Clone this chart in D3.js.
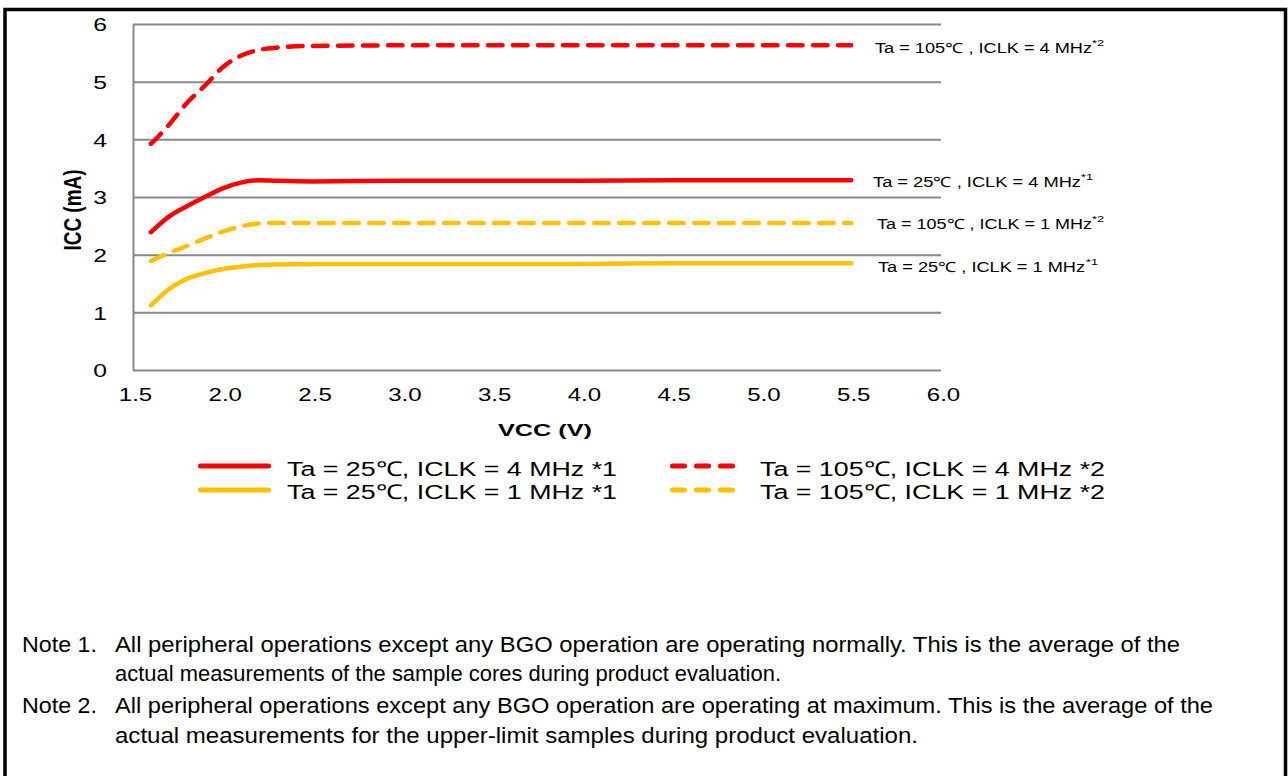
<!DOCTYPE html>
<html>
<head>
<meta charset="utf-8">
<script src="https://cdn.jsdelivr.net/npm/d3@7"></script>
<style>
  html, body { margin: 0; padding: 0; background: #fff; }
  svg { display: block; }
  text { font-family: "Liberation Sans", Arial, sans-serif; fill: #000; }
</style>
</head>
<body>
<svg id="chart" width="1288" height="776"></svg>
<script>
// ---------------- data ----------------
const vcc = [1.6, 1.7, 1.8, 1.9, 2.0, 2.1, 2.2, 2.3, 2.5, 3.0, 3.5, 4.0, 4.5, 5.0, 5.5];
const icc25_4MHz  = [2.39, 2.66, 2.84, 3.00, 3.15, 3.25, 3.29, 3.28, 3.27, 3.28, 3.28, 3.28, 3.29, 3.29, 3.29];
const icc105_4MHz = [3.92, 4.25, 4.63, 4.93, 5.25, 5.45, 5.55, 5.59, 5.62, 5.63, 5.63, 5.63, 5.63, 5.63, 5.63];
const icc25_1MHz  = [1.12, 1.40, 1.58, 1.68, 1.75, 1.79, 1.82, 1.83, 1.84, 1.84, 1.84, 1.84, 1.85, 1.85, 1.85];
const icc105_1MHz = [1.89, 2.03, 2.15, 2.28, 2.40, 2.49, 2.54, 2.55, 2.55, 2.55, 2.55, 2.55, 2.55, 2.55, 2.55];

const xTicks = [1.5, 2.0, 2.5, 3.0, 3.5, 4.0, 4.5, 5.0, 5.5, 6.0];
const yTicks = [0, 1, 2, 3, 4, 5, 6];
const xTitle = "VCC (V)";
const yTitle = "ICC (mA)";

const legendNames = [
  "Ta = 25℃, ICLK = 4 MHz *1",
  "Ta = 25℃, ICLK = 1 MHz *1",
  "Ta = 105℃, ICLK = 4 MHz *2",
  "Ta = 105℃, ICLK = 1 MHz *2"
];
const endLabels = [
  "Ta = 25℃ , ICLK = 4 MHz",
  "Ta = 25℃ , ICLK = 1 MHz",
  "Ta = 105℃ , ICLK = 4 MHz",
  "Ta = 105℃ , ICLK = 1 MHz"
];
const endSup = ["*1", "*1", "*2", "*2"];

const notes = [
  ["Note 1.", "All peripheral operations except any BGO operation are operating normally. This is the average of the"],
  ["", "actual measurements of the sample cores during product evaluation."],
  ["Note 2.", "All peripheral operations except any BGO operation are operating at maximum. This is the average of the"],
  ["", "actual measurements for the upper-limit samples during product evaluation."]
];

// ---------------- layout / style ----------------
const RED = "#ff0000", YEL = "#ffc000", GRID = "#898989";
const series = [
  { vals: icc25_4MHz,  color: RED, dashed: false, label: { x: 873, y: 187, w: 208, sx: 1081, sy: 180 }, leg: { x: 198, y: 466, tx: 287, ty: 476, tw: 330 } },
  { vals: icc25_1MHz,  color: YEL, dashed: false, label: { x: 878, y: 272, w: 207, sx: 1086, sy: 265 }, leg: { x: 198, y: 490, tx: 287, ty: 499, tw: 330 } },
  { vals: icc105_4MHz, color: RED, dashed: true,  label: { x: 875, y: 53,  w: 217, sx: 1092, sy: 46 },  leg: { x: 670, y: 466, tx: 760, ty: 476, tw: 345 } },
  { vals: icc105_1MHz, color: YEL, dashed: true,  label: { x: 877, y: 229, w: 215, sx: 1092, sy: 222 }, leg: { x: 670, y: 490, tx: 760, ty: 499, tw: 345 } }
];

const svg = d3.select("#chart");
const X0 = 133, X1 = 941, Y0 = 370, Y1 = 24;
const x = d3.scaleLinear().domain([1.5, 6.0]).range([X0, X1]);
const y = d3.scaleLinear().domain([0, 6]).range([Y0, Y1]);

// frame (no bottom edge visible)
svg.append("path")
  .attr("d", "M5,780 L5,9.5 L1285.5,9.5 L1285.5,780")
  .attr("fill", "none").attr("stroke", "#000").attr("stroke-width", 3.5);

// y axis + gridlines
const yAxis = d3.axisLeft(y).tickValues(yTicks).tickFormat(d3.format("d"))
  .tickSize(-(X1 - X0)).tickSizeOuter(0).tickPadding(0);
const gy = svg.append("g").attr("transform", `translate(${X0},0)`).call(yAxis);
gy.select(".domain").attr("stroke", GRID).attr("stroke-width", 2);
gy.selectAll(".tick line").attr("stroke", GRID).attr("stroke-width", 2);
gy.selectAll(".tick text")
  .attr("font-size", 19).attr("font-family", "Liberation Sans, Arial, sans-serif")
  .attr("x", -26 / 1.3).attr("dy", "0.36em")
  .attr("transform", "scale(1.3,1)").attr("fill", "#000");

// x axis
const xAxis = d3.axisBottom(x).tickValues(xTicks).tickSize(0).tickFormat(d3.format(".1f"));
const gx = svg.append("g").attr("transform", `translate(0,${Y0})`).call(xAxis);
gx.select(".domain").remove();
gx.selectAll(".tick text")
  .attr("font-size", 18.5).attr("font-family", "Liberation Sans, Arial, sans-serif")
  .attr("y", 31).attr("dy", 0).attr("x", 2 / 1.3)
  .attr("transform", "scale(1.3,1)").attr("fill", "#000");

// axis titles
svg.append("text").text(xTitle)
  .attr("x", 498).attr("y", 436)
  .attr("font-size", 17).attr("font-weight", "bold")
  .attr("textLength", 94).attr("lengthAdjust", "spacingAndGlyphs");

svg.append("text").text(yTitle)
  .attr("transform", "translate(81,210) scale(1.3,1) rotate(-90)")
  .attr("text-anchor", "middle")
  .attr("font-size", 19).attr("font-weight", "bold");

// lines
const line = d3.line().x((d, i) => x(vcc[i])).y(d => y(d)).curve(d3.curveMonotoneX);
series.forEach(s => {
  svg.append("path")
    .attr("d", line(s.vals))
    .attr("fill", "none")
    .attr("stroke", s.color)
    .attr("stroke-width", 4.5)
    .attr("stroke-linecap", "round")
    .attr("stroke-linejoin", "round")
    .attr("stroke-dasharray", s.dashed ? "14.5,10.5" : null);
});

// end labels
series.forEach((s, i) => {
  const L = s.label;
  svg.append("text").text(endLabels[i])
    .attr("x", L.x).attr("y", L.y)
    .attr("font-family", "Carlito, Lato, 'Open Sans', sans-serif")
    .attr("font-size", 14)
    .attr("textLength", L.w).attr("lengthAdjust", "spacingAndGlyphs");
  svg.append("text").text(endSup[i])
    .attr("x", L.sx).attr("y", L.sy)
    .attr("font-family", "Carlito, Lato, 'Open Sans', sans-serif")
    .attr("font-size", 9.5)
    .attr("textLength", 12).attr("lengthAdjust", "spacingAndGlyphs");
});

// legend
series.forEach((s, i) => {
  const G = s.leg;
  if (s.dashed) {
    svg.append("line")
      .attr("x1", G.x + 2.5).attr("x2", G.x + 65).attr("y1", G.y).attr("y2", G.y)
      .attr("stroke", s.color).attr("stroke-width", 5)
      .attr("stroke-linecap", "round").attr("stroke-dasharray", "12,12");
  } else {
    svg.append("line")
      .attr("x1", G.x + 2.5).attr("x2", G.x + 70.5).attr("y1", G.y).attr("y2", G.y)
      .attr("stroke", s.color).attr("stroke-width", 5)
      .attr("stroke-linecap", "round");
  }
  svg.append("text").text(legendNames[i])
    .attr("x", G.tx).attr("y", G.ty)
    .attr("font-size", 20.5)
    .attr("textLength", G.tw).attr("lengthAdjust", "spacingAndGlyphs");
});

// notes
const noteBase = [652, 681, 713, 743];
const noteEnd = [1180, 781, 1213, 918];
notes.forEach((n, i) => {
  if (n[0]) {
    svg.append("text").text(n[0])
      .attr("x", 22).attr("y", noteBase[i]).attr("font-size", 22)
      .attr("textLength", 75).attr("lengthAdjust", "spacingAndGlyphs");
  }
  svg.append("text").text(n[1])
    .attr("x", 115).attr("y", noteBase[i]).attr("font-size", 22)
    .attr("textLength", noteEnd[i] - 115).attr("lengthAdjust", "spacingAndGlyphs");
});
</script>
</body>
</html>
